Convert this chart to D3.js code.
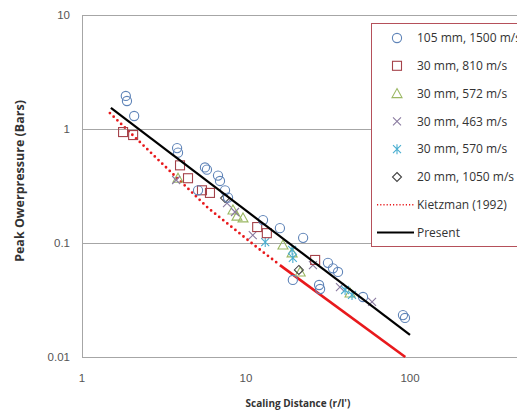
<!DOCTYPE html>
<html><head><meta charset="utf-8">
<script src="https://cdn.jsdelivr.net/npm/d3@7"></script>
<style>body{margin:0;background:#fff}svg{display:block}</style>
</head><body>
<svg id="c" width="517" height="410"></svg>
<script>
// ---- data ----
const xTicks = [1, 10, 100];
const yTicks = [0.01, 0.1, 1, 10];
const yTickLabels = ["0.01", "0.1", "1", "10"];

const s105X = [1.85, 1.88, 2.08, 3.80, 3.85, 5.62, 5.78, 6.75, 6.94, 7.45, 7.77, 5.1, 12.7, 16.1, 22.3, 31.6, 33.9, 36.4, 19.3, 27.9, 28.3, 51.7, 90.6, 93.2];
const s105P = [1.95, 1.76, 1.30, 0.68, 0.62, 0.46, 0.44, 0.39, 0.35, 0.29, 0.25, 0.29, 0.159, 0.135, 0.111, 0.067, 0.060, 0.0557, 0.0474, 0.0428, 0.0395, 0.0336, 0.0233, 0.022];

const s810X = [1.78, 2.05, 3.96, 4.43, 5.39, 6.03, 11.7, 13.4, 26.4];
const s810P = [0.94, 0.885, 0.48, 0.37, 0.29, 0.275, 0.138, 0.122, 0.071];

const s572X = [3.85, 8.33, 8.81, 9.59, 16.8, 19.1, 21.4, 43.1];
const s572P = [0.37, 0.195, 0.172, 0.166, 0.096, 0.082, 0.0557, 0.0364];

const s463X = [3.75, 7.66, 8.57, 11.0, 25.6, 37.4, 58.7];
const s463P = [0.357, 0.224, 0.187, 0.117, 0.064, 0.041, 0.0304];

const s570X = [13.1, 19.1, 19.3, 40.2, 44.3];
const s570P = [0.102, 0.087, 0.074, 0.0387, 0.035];

const s1050X = [7.45, 21.0];
const s1050P = [0.248, 0.058];

const kietzDotX = [1.48, 5.87, 11.8, 16.1];
const kietzDotP = [1.38, 0.203, 0.0904, 0.064];
const kietzSolidX = [16.1, 93.6];
const kietzSolidP = [0.064, 0.01];

const presentX = [1.5, 100];
const presentP = [1.53, 0.0156];

const legendLabels = ["105 mm, 1500 m/s", "30 mm, 810 m/s", "30 mm, 572 m/s", "30 mm, 463 m/s", "30 mm, 570 m/s", "20 mm, 1050 m/s", "Kietzman (1992)", "Present"];

// ---- chart ----
const svg = d3.select("#c");
const x = d3.scaleLog().domain([1, 1000]).range([82, 574]);
const y = d3.scaleLog().domain([0.01, 10]).range([357, 15]);

const grid = "#a6a6a6";
svg.append("g").selectAll("line").data([0.1, 1, 10]).join("line")
  .attr("x1", x(1)).attr("x2", 517).attr("y1", d => y(d)).attr("y2", d => y(d))
  .attr("stroke", grid).attr("stroke-width", 1).attr("shape-rendering", "crispEdges");
svg.append("line").attr("x1", x(1)).attr("x2", x(1)).attr("y1", y(10)).attr("y2", y(0.01))
  .attr("stroke", grid).attr("shape-rendering", "crispEdges");
svg.append("line").attr("x1", x(1)).attr("x2", 517).attr("y1", y(0.01)).attr("y2", y(0.01))
  .attr("stroke", grid).attr("shape-rendering", "crispEdges");

const tickFont = "'Liberation Sans', Arial, sans-serif";
svg.append("g").selectAll("text").data(yTicks).join("text")
  .attr("x", 70).attr("y", d => y(d)).attr("dy", "0.35em")
  .attr("text-anchor", "end").attr("font-family", tickFont).attr("font-size", 11.5)
  .attr("fill", "#555").text((d, i) => yTickLabels[i]);
svg.append("g").selectAll("text").data(xTicks).join("text")
  .attr("x", d => x(d)).attr("y", 382)
  .attr("text-anchor", "middle").attr("font-family", tickFont).attr("font-size", 11.5)
  .attr("fill", "#555").text(d => String(d));

const titleFont = "'Open Sans', 'Noto Sans', sans-serif";
svg.append("text").attr("x", 298).attr("y", 407).attr("text-anchor", "middle")
  .attr("font-family", titleFont).attr("font-weight", "bold").attr("font-size", 10)
  .attr("fill", "#333").text("Scaling Distance (r/l')");
svg.append("text").attr("transform", "translate(24,181) rotate(-90)").attr("text-anchor", "middle")
  .attr("font-family", titleFont).attr("font-weight", "bold").attr("font-size", 12.5)
  .attr("fill", "#333").text("Peak Owerpressure (Bars)");

const line = d3.line().x(d => x(d[0])).y(d => y(d[1]));
const plot = svg.append("g");

// Kietzman
plot.append("path").datum(kietzDotX.map((v, i) => [v, kietzDotP[i]]))
  .attr("d", line).attr("fill", "none").attr("stroke", "#e8191c").attr("stroke-width", 2.8)
  .attr("stroke-dasharray", "0,5.2").attr("stroke-linecap", "round");
plot.append("path").datum(kietzSolidX.map((v, i) => [v, kietzSolidP[i]]))
  .attr("d", line).attr("fill", "none").attr("stroke", "#e8191c").attr("stroke-width", 2.6);

const circleCol = "#5f84b8", sqCol = "#a5424a", triCol = "#9bb863", xCol = "#8a7aa0", astCol = "#4aaed0", diaCol = "#444";

function markers(xs, ps, draw) {
  const g = plot.append("g");
  xs.forEach((v, i) => draw(g.append("g").attr("transform", `translate(${x(v)},${y(ps[i])})`)));
}
const drawCircle = g => g.append("circle").attr("r", 4.6).attr("fill", "none").attr("stroke", circleCol).attr("stroke-width", 1.1);
const drawSquare = g => g.append("rect").attr("x", -4.5).attr("y", -4.5).attr("width", 9).attr("height", 9).attr("fill", "none").attr("stroke", sqCol).attr("stroke-width", 1.1);
const drawTri = g => g.append("path").attr("d", "M0,-5L5,4L-5,4Z").attr("fill", "none").attr("stroke", triCol).attr("stroke-width", 1.1);
const drawX = g => g.append("path").attr("d", "M-4,-4L4,4M-4,4L4,-4").attr("stroke", xCol).attr("stroke-width", 1.1);
const drawAst = g => g.append("path").attr("d", "M-4,-4L4,4M-4,4L4,-4M0,-5L0,5").attr("stroke", astCol).attr("stroke-width", 1.1);
const drawDia = g => g.append("path").attr("d", "M0,-4.5L4.5,0L0,4.5L-4.5,0Z").attr("fill", "none").attr("stroke", diaCol).attr("stroke-width", 1.1);

markers(s572X, s572P, drawTri);
markers(s463X, s463P, drawX);
markers(s570X, s570P, drawAst);
markers(s1050X, s1050P, drawDia);
markers(s810X, s810P, drawSquare);
markers(s105X, s105P, drawCircle);

// Present
plot.append("path").datum(presentX.map((v, i) => [v, presentP[i]]))
  .attr("d", line).attr("fill", "none").attr("stroke", "#000").attr("stroke-width", 2.2);

// legend
const lg = svg.append("g");
lg.append("rect").attr("x", 371.5).attr("y", 23.5).attr("width", 160).attr("height", 223)
  .attr("fill", "#fff").attr("stroke", "#b5505a").attr("stroke-width", 1);
const draws = [drawCircle, drawSquare, drawTri, drawX, drawAst, drawDia];
legendLabels.forEach((lab, i) => {
  const cy = 38 + i * 27.8;
  if (i < 6) {
    draws[i](lg.append("g").attr("transform", `translate(397,${cy})`));
  } else if (i === 6) {
    lg.append("line").attr("x1", 377).attr("x2", 414).attr("y1", cy).attr("y2", cy)
      .attr("stroke", "#e8191c").attr("stroke-width", 1.6).attr("stroke-dasharray", "1.2,2");
  } else {
    lg.append("line").attr("x1", 377).attr("x2", 414).attr("y1", cy).attr("y2", cy)
      .attr("stroke", "#000").attr("stroke-width", 2);
  }
  lg.append("text").attr("x", 417).attr("y", cy).attr("dy", "0.35em")
    .attr("font-family", titleFont).attr("font-size", 12).attr("fill", "#333").text(lab);
});
</script>
</body></html>
